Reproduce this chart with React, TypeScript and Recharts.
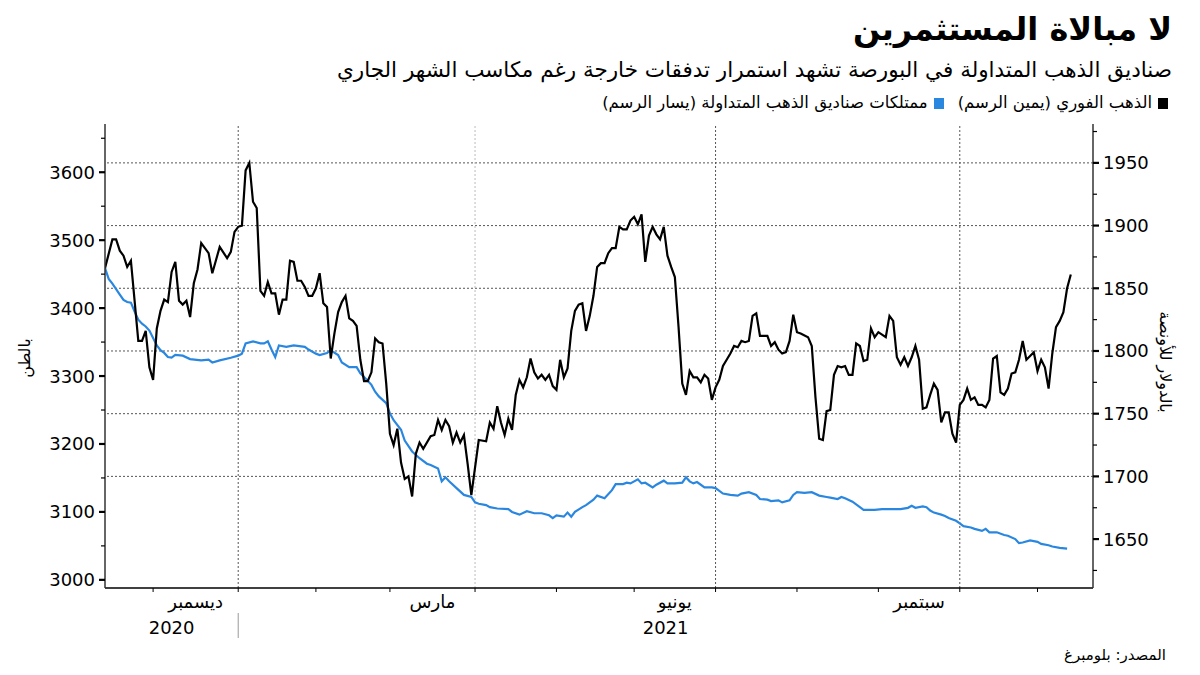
import React from 'react';
import { LineChart, Line, XAxis, YAxis, ReferenceLine } from 'recharts';

// x = weekday index, counted from 12 Nov 2020
const goldSpot: [number, number][] = [
  [0, 1866], [2, 1889], [3, 1889], [4, 1880], [5, 1876], [6, 1867], [7, 1872], [9, 1808], [10, 1808],
  [11, 1816], [12, 1787], [13, 1777], [14, 1818], [15, 1832], [16, 1841], [17, 1839], [18, 1863],
  [19, 1871], [20, 1840], [21, 1837], [22, 1840], [23, 1827], [24, 1854], [25, 1865], [26, 1886],
  [28, 1878], [29, 1862], [31, 1883], [33, 1874], [34, 1879], [35, 1895], [36, 1899], [37, 1900],
  [38, 1944], [39, 1950], [40, 1919], [41, 1914], [42, 1848], [43, 1844], [44, 1855], [45, 1846],
  [46, 1846], [47, 1829], [48, 1841], [49, 1841], [50, 1872], [51, 1871], [52, 1856], [53, 1856],
  [54, 1851], [55, 1844], [56, 1844], [57, 1850], [58, 1862], [59, 1838], [60, 1835], [61, 1794],
  [62, 1814], [63, 1831], [64, 1839], [65, 1844], [66, 1826], [67, 1824], [68, 1820], [69, 1793],
  [70, 1776], [71, 1776], [72, 1783], [73, 1810], [74, 1807], [75, 1806], [76, 1774], [77, 1734],
  [78, 1725], [79, 1738], [80, 1711], [81, 1698], [82, 1700], [83, 1684], [84, 1718], [85, 1727],
  [86, 1722], [88, 1732], [89, 1733], [90, 1745], [91, 1737], [92, 1745], [93, 1740], [94, 1727],
  [95, 1735], [96, 1727], [97, 1733], [98, 1710], [99, 1685], [100, 1707], [101, 1729], [103, 1728],
  [104, 1743], [105, 1738], [106, 1756], [107, 1743], [108, 1733], [109, 1746], [110, 1737],
  [111, 1765], [112, 1777], [113, 1771], [114, 1779], [115, 1794], [116, 1783], [117, 1778],
  [118, 1781], [119, 1777], [120, 1781], [121, 1772], [122, 1769], [123, 1793], [124, 1779],
  [125, 1786], [126, 1816], [127, 1832], [128, 1837], [129, 1838], [130, 1816], [131, 1828],
  [132, 1844], [133, 1867], [134, 1870], [135, 1870], [136, 1878], [137, 1882], [138, 1882],
  [139, 1899], [140, 1897], [141, 1897], [142, 1904], [143, 1907], [144, 1901], [145, 1909],
  [146, 1871], [147, 1892], [148, 1899], [149, 1893], [150, 1889], [151, 1899], [152, 1876],
  [153, 1867], [154, 1859], [155, 1819], [156, 1774], [157, 1765], [158, 1784], [159, 1779],
  [160, 1779], [161, 1775], [162, 1781], [163, 1778], [164, 1761], [165, 1771], [166, 1777],
  [167, 1788], [168, 1793], [169, 1798], [170, 1804], [171, 1803], [172, 1808], [173, 1807],
  [174, 1808], [175, 1828], [176, 1830], [177, 1812], [179, 1812], [180, 1804], [181, 1807],
  [182, 1801], [183, 1798], [184, 1799], [185, 1808], [186, 1829], [187, 1815], [188, 1814],
  [190, 1811], [191, 1804], [192, 1763], [193, 1730], [194, 1729], [195, 1752], [196, 1753],
  [197, 1781], [198, 1788], [199, 1787], [200, 1788], [201, 1781], [202, 1781], [203, 1806],
  [204, 1804], [205, 1792], [206, 1793], [207, 1818], [208, 1811], [209, 1815], [211, 1811],
  [212, 1828], [213, 1824], [214, 1795], [215, 1789], [216, 1795], [217, 1788], [218, 1795],
  [219, 1804], [220, 1793], [221, 1754], [222, 1755], [223, 1765], [224, 1774], [225, 1769],
  [226, 1743], [227, 1751], [228, 1751], [229, 1734], [230, 1727], [231, 1757], [232, 1761],
  [233, 1770], [234, 1761], [235, 1763], [236, 1757], [237, 1757], [238, 1755], [239, 1761],
  [240, 1794], [241, 1796], [242, 1767], [243, 1765], [244, 1770], [245, 1782], [246, 1783],
  [247, 1793], [248, 1808], [249, 1793], [250, 1796], [251, 1799], [252, 1784], [253, 1793],
  [254, 1787], [255, 1770], [256, 1798], [257, 1819], [258, 1824], [259, 1831], [260, 1850],
  [261, 1861],
];

const etfHoldings: [number, number][] = [
  [0, 3459], [1, 3443], [2, 3436], [3, 3428], [4, 3420], [5, 3412], [6, 3409], [7, 3408], [8, 3395],
  [9, 3383], [10, 3377], [11, 3373], [12, 3367], [13, 3356], [14, 3345], [15, 3338], [16, 3334],
  [17, 3328], [18, 3327], [19, 3331], [21, 3330], [23, 3325], [26, 3323], [28, 3324], [29, 3320],
  [31, 3323], [34, 3327], [36, 3330], [37, 3333], [38, 3348], [40, 3351], [42, 3348], [43, 3348],
  [44, 3351], [45, 3339], [46, 3328], [47, 3345], [49, 3343], [51, 3345], [54, 3343], [55, 3339],
  [57, 3333], [58, 3331], [60, 3334], [61, 3338], [63, 3331], [64, 3320], [66, 3313], [68, 3313],
  [69, 3304], [71, 3293], [72, 3287], [73, 3277], [74, 3270], [76, 3260], [77, 3245], [78, 3235],
  [80, 3221], [81, 3205], [83, 3189], [85, 3179], [87, 3171], [88, 3169], [90, 3164], [91, 3145],
  [92, 3151], [93, 3145], [95, 3135], [97, 3125], [99, 3122], [100, 3114], [101, 3112], [103, 3110],
  [104, 3107], [106, 3105], [109, 3104], [110, 3100], [112, 3096], [114, 3101], [116, 3098],
  [118, 3098], [120, 3095], [121, 3091], [122, 3095], [124, 3093], [125, 3099], [126, 3093],
  [127, 3100], [129, 3107], [130, 3110], [132, 3118], [133, 3124], [135, 3120], [137, 3132],
  [138, 3141], [140, 3141], [141, 3143], [142, 3142], [144, 3148], [145, 3142], [146, 3143],
  [148, 3136], [149, 3140], [151, 3146], [152, 3142], [154, 3142], [156, 3143], [157, 3151],
  [158, 3145], [159, 3142], [160, 3144], [162, 3136], [164, 3136], [165, 3135], [167, 3127],
  [169, 3125], [171, 3124], [172, 3127], [174, 3129], [176, 3125], [177, 3119], [179, 3118],
  [180, 3116], [182, 3117], [183, 3114], [185, 3117], [186, 3125], [187, 3129], [189, 3128],
  [191, 3129], [193, 3124], [195, 3122], [196, 3121], [198, 3119], [199, 3122], [200, 3120],
  [202, 3115], [204, 3107], [205, 3103], [208, 3103], [210, 3104], [213, 3104], [215, 3104],
  [217, 3106], [218, 3109], [219, 3106], [221, 3108], [222, 3107], [223, 3102], [224, 3099],
  [226, 3096], [227, 3094], [228, 3091], [230, 3087], [231, 3083], [232, 3079], [234, 3077],
  [235, 3075], [237, 3072], [238, 3075], [239, 3070], [241, 3070], [243, 3066], [244, 3065],
  [246, 3060], [247, 3054], [248, 3055], [250, 3058], [252, 3056], [253, 3053], [255, 3051],
  [256, 3049], [258, 3047], [260, 3046],
];

// first weekday of each month, Dec 2020 .. Nov 2021
const monthStarts = [13, 36, 57, 77, 100, 122, 143, 165, 187, 209, 231, 252];
const quarterLines = [36, 100, 165, 231];
const monthLabels: [number, string][] = [[24.5, 'ديسمبر'], [88.5, 'مارس'], [154, 'يونيو'], [220, 'سبتمبر']];
const yearLabels: [number, string][] = [[18, '2020'], [151.5, '2021']];
const yearBreak = 36;

const leftTicks = [3000, 3050, 3100, 3150, 3200, 3250, 3300, 3350, 3400, 3450, 3500, 3550, 3600, 3650];
const rightTicks = [1625, 1650, 1675, 1700, 1725, 1750, 1775, 1800, 1825, 1850, 1875, 1900, 1925, 1950, 1975];
const rightGrid = [1700, 1750, 1800, 1850, 1900, 1950];

const FONT = '"DejaVu Sans", sans-serif';
const BLUE = '#2a87e0';

const goldData = goldSpot.map(([i, v]) => ({ i, v }));
const etfData = etfHoldings.map(([i, v]) => ({ i, v }));
const xTicks = [...monthStarts, ...monthLabels.map((m) => m[0]), ...yearLabels.map((y) => y[0])].sort((a, b) => a - b);

function MonthTick(props: any) {
  const { x, y, payload } = props;
  const v = payload.value;
  const month = monthLabels.find((m) => m[0] === v);
  const year = yearLabels.find((m) => m[0] === v);
  if (month) {
    return (
      <text x={x} y={y + 20} textAnchor="middle" fontSize={18} fontFamily={FONT} fill="#000">
        {month[1]}
      </text>
    );
  }
  if (year) {
    return (
      <text x={x} y={y + 46} textAnchor="middle" fontSize={18} fontFamily={FONT} fill="#000">
        {year[1]}
      </text>
    );
  }
  return (
    <g>
      <line x1={x} x2={x} y1={y} y2={y + 4} stroke="#000" strokeWidth={1} />
      {v === yearBreak && <line x1={x} x2={x} y1={y + 25} y2={y + 50} stroke="#999" strokeWidth={1} />}
    </g>
  );
}

function LeftTick(props: any) {
  const { x, y, payload } = props;
  const major = payload.value % 100 === 0;
  return (
    <g>
      <line x1={x - (major ? 6 : 4)} x2={x} y1={y} y2={y} stroke="#000" strokeWidth={major ? 2.2 : 1.2} />
      {major && (
        <text x={x - 10} y={y} dy="0.36em" textAnchor="end" fontSize={18} fontFamily={FONT} fill="#000">
          {payload.value}
        </text>
      )}
    </g>
  );
}

function RightTick(props: any) {
  const { x, y, payload } = props;
  const major = payload.value % 50 === 0;
  return (
    <g>
      <line x1={x} x2={x + (major ? 6 : 4)} y1={y} y2={y} stroke="#000" strokeWidth={major ? 2.2 : 1.2} />
      {major && (
        <text x={x + 10} y={y} dy="0.36em" textAnchor="start" fontSize={18} fontFamily={FONT} fill="#000">
          {payload.value}
        </text>
      )}
    </g>
  );
}

export default function App() {
  return (
    <div style={{ position: 'absolute', left: 0, top: 0, width: 1200, height: 675, background: '#fff', fontFamily: FONT, overflow: 'hidden' }}>
      <div dir="rtl" style={{ position: 'absolute', right: 28, top: 10, fontSize: 32, fontWeight: 'bold', lineHeight: 1.2, whiteSpace: 'nowrap' }}>
        لا مبالاة المستثمرين
      </div>
      <div dir="rtl" style={{ position: 'absolute', right: 28, top: 56, fontSize: 21.5, lineHeight: 1.3, whiteSpace: 'nowrap' }}>
        صناديق الذهب المتداولة في البورصة تشهد استمرار تدفقات خارجة رغم مكاسب الشهر الجاري
      </div>
      <div dir="rtl" style={{ position: 'absolute', right: 32, top: 92, fontSize: 16.5, lineHeight: '22px', display: 'flex', alignItems: 'center', whiteSpace: 'nowrap' }}>
        <span style={{ width: 10, height: 11, background: '#000', marginLeft: 6, display: 'inline-block' }} />
        <span>الذهب الفوري (يمين الرسم)</span>
        <span style={{ width: 10, height: 11, background: BLUE, marginLeft: 6, marginRight: 14, display: 'inline-block' }} />
        <span>ممتلكات صناديق الذهب المتداولة (يسار الرسم)</span>
      </div>

      <div style={{ position: 'absolute', left: 0, top: 0 }}>
        <LineChart width={1200} height={675} margin={{ top: 124, right: 47, bottom: 47, left: 45 }}>
          <XAxis
            dataKey="i"
            type="number"
            domain={[0, 267]}
            ticks={xTicks}
            interval={0}
            tickSize={0}
            tickMargin={0}
            tickLine={false}
            tick={<MonthTick />}
            axisLine={{ stroke: '#000', strokeWidth: 1.5 }}
            height={40}
            allowDataOverflow
          />
          <YAxis
            yAxisId="left"
            orientation="left"
            domain={[2988, 3671]}
            ticks={leftTicks}
            interval={0}
            tickSize={0}
            tickMargin={0}
            tickLine={false}
            tick={<LeftTick />}
            axisLine={{ stroke: '#333', strokeWidth: 1.5 }}
            width={60}
            allowDataOverflow
          />
          <YAxis
            yAxisId="right"
            orientation="right"
            domain={[1611, 1981]}
            ticks={rightTicks}
            interval={0}
            tickSize={0}
            tickMargin={0}
            tickLine={false}
            tick={<RightTick />}
            axisLine={{ stroke: '#333', strokeWidth: 1.5 }}
            width={60}
            allowDataOverflow
          />
          {rightGrid.map((g) => (
            <ReferenceLine key={'h' + g} yAxisId="right" y={g} stroke="#555" strokeDasharray="2 2" strokeWidth={1} />
          ))}
          {quarterLines.map((q) => (
            <ReferenceLine key={'v' + q} yAxisId="left" x={q} stroke={q === 100 ? '#bbb' : '#555'} strokeDasharray="2 2" strokeWidth={1} />
          ))}
          <Line
            yAxisId="left"
            data={etfData}
            dataKey="v"
            type="linear"
            stroke={BLUE}
            strokeWidth={2.2}
            dot={false}
            isAnimationActive={false}
          />
          <Line
            yAxisId="right"
            data={goldData}
            dataKey="v"
            type="linear"
            stroke="#000"
            strokeWidth={2.2}
            dot={false}
            isAnimationActive={false}
          />
        </LineChart>
      </div>

      <svg width={1200} height={675} style={{ position: 'absolute', left: 0, top: 0, pointerEvents: 'none' }}>
        <text transform="translate(30 358) rotate(-90)" textAnchor="middle" fontSize={16} fontFamily={FONT} fill="#000">
          بالطن
        </text>
        <text transform="translate(1160 362) rotate(90)" textAnchor="middle" fontSize={16} fontFamily={FONT} fill="#000">
          بالدولار للأونصة
        </text>
      </svg>

      <div dir="rtl" style={{ position: 'absolute', right: 34, top: 645, fontSize: 15, lineHeight: '20px', whiteSpace: 'nowrap' }}>
        المصدر: بلومبرغ
      </div>
    </div>
  );
}
